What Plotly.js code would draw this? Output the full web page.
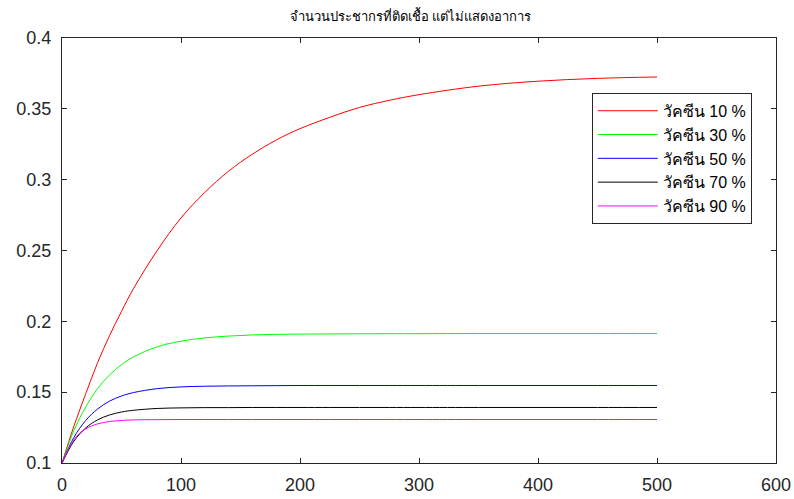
<!DOCTYPE html>
<html>
<head>
<meta charset="utf-8">
<script src="https://cdn.plot.ly/plotly-3.0.1.min.js"></script>
<style>html,body{margin:0;padding:0;background:#fff;}#chart{width:794px;height:499px;}</style>
</head>
<body>
<div id="chart"></div>
<script>
const titleText = 'จำนวนประชากรที่ติดเชื้อ แต่ไม่แสดงอาการ';
const seriesNames = ['วัคซีน 10 %', 'วัคซีน 30 %', 'วัคซีน 50 %', 'วัคซีน 70 %', 'วัคซีน 90 %'];
const seriesColors = ['#ff0000', '#00ff00', '#0000ff', '#000000', '#ff00ff'];

const days = [0, 10, 20, 30, 40, 50, 60, 80, 100, 120, 140, 160, 180, 200, 225, 250, 275, 300, 350, 400, 450, 500];

const vaccine10 = [0.100, 0.126, 0.149, 0.171, 0.190, 0.207, 0.223, 0.250, 0.273, 0.291, 0.306, 0.318, 0.328, 0.336, 0.344, 0.351, 0.356, 0.360, 0.366, 0.3695, 0.3715, 0.3725];
const vaccine30 = [0.100, 0.1229, 0.1397, 0.1526, 0.1622, 0.1694, 0.1749, 0.1820, 0.1860, 0.1883, 0.1896, 0.1904, 0.1908, 0.1910, 0.1911, 0.1912, 0.1913, 0.1913, 0.1914, 0.1914, 0.1914, 0.1914];
const vaccine50 = [0.100, 0.1181, 0.1301, 0.1382, 0.1437, 0.1473, 0.1497, 0.1525, 0.1537, 0.1542, 0.1544, 0.1545, 0.1546, 0.1547, 0.1547, 0.1547, 0.1547, 0.1547, 0.1547, 0.1547, 0.1547, 0.1547];
const vaccine70 = [0.100, 0.1154, 0.1248, 0.1305, 0.1339, 0.1360, 0.1372, 0.1385, 0.1389, 0.1391, 0.1391, 0.1392, 0.1392, 0.1392, 0.1392, 0.1392, 0.1392, 0.1392, 0.1392, 0.1392, 0.1392, 0.1392];
const vaccine90 = [0.100, 0.1165, 0.1241, 0.1276, 0.1293, 0.1300, 0.1304, 0.1306, 0.1307, 0.1307, 0.1307, 0.1307, 0.1307, 0.1307, 0.1307, 0.1307, 0.1307, 0.1307, 0.1307, 0.1307, 0.1307, 0.1307];

const xTicks = [0, 100, 200, 300, 400, 500, 600];
const yTicks = [0.1, 0.15, 0.2, 0.25, 0.3, 0.35, 0.4];
const yTickText = ['0.1', '0.15', '0.2', '0.25', '0.3', '0.35', '0.4'];

const allSeries = [vaccine10, vaccine30, vaccine50, vaccine70, vaccine90];
const traces = allSeries.map((ys, i) => ({
  x: days, y: ys, type: 'scatter', mode: 'lines',
  name: seriesNames[i],
  line: {color: seriesColors[i], width: 1, shape: 'spline', smoothing: 1}
}));

const axisCommon = {
  showgrid: false, zeroline: false, showline: true, linecolor: '#262626', linewidth: 1,
  mirror: 'ticks', ticks: 'inside', ticklen: 5, tickcolor: '#262626',
  tickfont: {family: 'Liberation Sans, Arial, sans-serif', size: 18, color: '#262626'}
};

const layout = {
  width: 794, height: 499,
  margin: {l: 62, r: 18, t: 38, b: 36},
  paper_bgcolor: '#ffffff', plot_bgcolor: '#ffffff',
  showlegend: true,
  title: {text: titleText, x: 0.517, xanchor: 'center', y: 0.968, yanchor: 'middle',
          font: {family: 'Liberation Serif, serif', size: 13, color: '#000000'}},
  xaxis: Object.assign({}, axisCommon, {range: [0, 600], tickvals: xTicks, ticktext: xTicks.map(String), ticklabelstandoff: 5}),
  yaxis: Object.assign({}, axisCommon, {range: [0.1, 0.4], tickvals: yTicks, ticktext: yTickText, ticklabelstandoff: 6}),
  legend: {
    x: 0.742, y: 0.871, xanchor: 'left', yanchor: 'top',
    bgcolor: '#ffffff', bordercolor: '#262626', borderwidth: 1,
    font: {family: 'Liberation Sans, Arial, sans-serif', size: 16, color: '#000000'},
    itemwidth: 60, tracegroupgap: 0
  }
};

Plotly.newPlot('chart', traces, layout, {displayModeBar: false, staticPlot: true});
</script>
</body>
</html>
